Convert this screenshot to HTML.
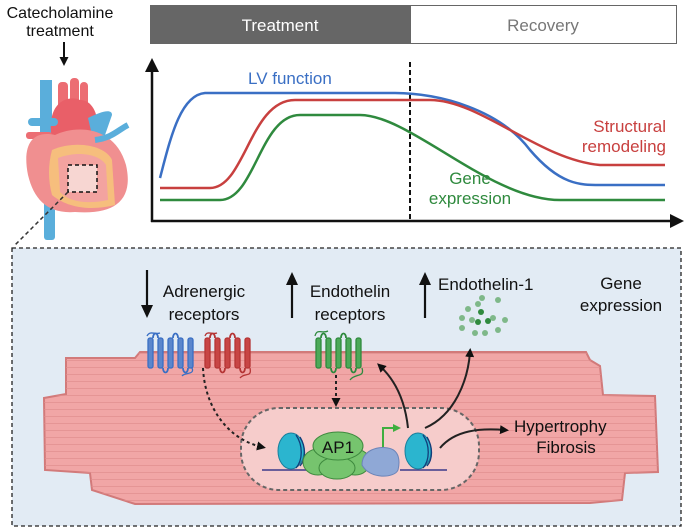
<!DOCTYPE html>
<html><head><meta charset="utf-8"><style>
html,body{margin:0;padding:0;background:#fff}
svg{display:block}
text{font-family:"Liberation Sans",sans-serif}
</style></head><body>
<svg width="685" height="530" viewBox="0 0 685 530" xmlns="http://www.w3.org/2000/svg">
<defs>
<marker id="ah" markerWidth="9" markerHeight="9" refX="5" refY="4.5" orient="auto" markerUnits="userSpaceOnUse"><path d="M0,0 L9,4.5 L0,9 z" fill="#111"/></marker>
<pattern id="str" width="40" height="7" patternUnits="userSpaceOnUse"><path d="M0,3.5 H40" stroke="#e08e8e" stroke-width="1"/></pattern>
</defs>
<text x="60" y="18" font-size="16" text-anchor="middle" fill="#111">Catecholamine</text>
<text x="60" y="36" font-size="16" text-anchor="middle" fill="#111">treatment</text>
<line x1="64" y1="42" x2="64" y2="62" stroke="#111" stroke-width="2" marker-end="url(#ah)"/>
<!-- heart -->
<g>
<path d="M40,80 L52,80 L52,150 L40,150 z" fill="#5aaedb"/>
<rect x="44" y="195" width="11" height="45" rx="3" fill="#5aaedb"/>
<rect x="58" y="82" width="10" height="30" rx="4" fill="#ec6d73"/>
<rect x="70" y="78" width="9" height="34" rx="4" fill="#ec6d73"/>
<rect x="80" y="82" width="8" height="30" rx="4" fill="#ec6d73"/>
<path d="M52,140 C45,100 70,95 80,100 C95,100 100,120 98,140 z" fill="#e95f68"/>
<rect x="28" y="118" width="30" height="8" rx="4" fill="#5aaedb"/>
<rect x="26" y="132" width="26" height="7" rx="3" fill="#ec6d73"/>
<path d="M88,118 C100,112 112,108 112,115 L105,135 L92,135 z" fill="#5aaedb"/>
<path d="M28,175 C22,145 32,130 55,135 C75,125 115,125 126,165 C134,200 115,215 75,212 C48,214 34,200 28,175 z" fill="#f08f90"/>
<path d="M52,150 C75,140 105,145 112,160 L115,205 C95,210 70,210 52,195 C48,180 48,165 52,150 z" fill="#f7c77a" opacity="0.85"/>
<path d="M58,158 C80,150 100,155 106,165 L108,200 C90,204 70,203 60,192 z" fill="#f3a3a0"/>
<path d="M95,140 C112,138 118,130 128,125" stroke="#5aaedb" stroke-width="6" fill="none"/>
<rect x="68" y="165" width="29" height="27" fill="#f7d6d2" stroke="#111" stroke-width="1.5" stroke-dasharray="4,3"/>
</g>
<line x1="68" y1="192" x2="15" y2="245" stroke="#333" stroke-width="1.5" stroke-dasharray="4,3"/>
<rect x="150" y="5" width="260" height="39" fill="#666"/>
<text x="280" y="31" font-size="17" text-anchor="middle" fill="#fff">Treatment</text>
<rect x="410.5" y="5.5" width="266" height="38" fill="#fff" stroke="#666" stroke-width="1"/>
<text x="543" y="31" font-size="17" text-anchor="middle" fill="#777">Recovery</text>
<line x1="152" y1="222" x2="152" y2="68" stroke="#111" stroke-width="2.5"/>
<path d="M145,72 L152,58 L159,72 z" fill="#111"/>
<line x1="151" y1="221" x2="672" y2="221" stroke="#111" stroke-width="2.5"/>
<path d="M670,214 L684,221 L670,228 z" fill="#111"/>
<line x1="410" y1="62" x2="410" y2="220" stroke="#111" stroke-width="2" stroke-dasharray="5,3"/>
<path d="M160,178 C170,140 180,95 205,93 L395,93 C440,93 500,110 530,150 C560,185 580,185 600,185 L665,185" fill="none" stroke="#3a6fc4" stroke-width="2.5"/>
<path d="M160,188 L210,188 C245,188 250,100 295,100 L430,100 C480,100 540,160 600,165 L665,165" fill="none" stroke="#c8403f" stroke-width="2.5"/>
<path d="M160,200 L220,200 C255,200 260,115 300,115 L360,115 C410,115 490,200 560,200 L665,200" fill="none" stroke="#2f8a3e" stroke-width="2.5"/>
<text x="248" y="84" font-size="17" fill="#3a6fc4">LV function</text>
<text x="666" y="132" font-size="17" text-anchor="end" fill="#c8403f">Structural</text>
<text x="666" y="152" font-size="17" text-anchor="end" fill="#c8403f">remodeling</text>
<text x="470" y="184" font-size="17" text-anchor="middle" fill="#2f8a3e">Gene</text>
<text x="470" y="204" font-size="17" text-anchor="middle" fill="#2f8a3e">expression</text>
<rect x="12" y="248" width="669" height="278" fill="#e2ebf4" stroke="#222" stroke-width="1.3" stroke-dasharray="4,3"/>
<path d="M66,358 L135,358 L140,352 L586,352 L590,360 L600,366 L603,395 L655,396 L658,472 L625,473 L622,500 L590,503 L135,504 L92,490 L90,473 L45,470 L44,398 L66,394 z" fill="#f1a6a6" stroke="#d27a7a" stroke-width="2"/>
<path d="M66,358 L135,358 L140,352 L586,352 L590,360 L600,366 L603,395 L655,396 L658,472 L625,473 L622,500 L590,503 L135,504 L92,490 L90,473 L45,470 L44,398 L66,394 z" fill="url(#str)" opacity="0.7"/>
<rect x="241" y="408" width="238" height="82" rx="38" fill="#f6cccb" stroke="#666" stroke-width="2" stroke-dasharray="4,3"/>
<line x1="147" y1="270" x2="147" y2="308" stroke="#111" stroke-width="2.2"/>
<path d="M141,305 L147,318 L153,305 z" fill="#111"/>
<text x="204" y="297" font-size="17" text-anchor="middle" fill="#111">Adrenergic</text>
<text x="204" y="320" font-size="17" text-anchor="middle" fill="#111">receptors</text>
<line x1="292" y1="318" x2="292" y2="282" stroke="#111" stroke-width="2.2"/>
<path d="M286,285 L292,272 L298,285 z" fill="#111"/>
<text x="350" y="297" font-size="17" text-anchor="middle" fill="#111">Endothelin</text>
<text x="350" y="320" font-size="17" text-anchor="middle" fill="#111">receptors</text>
<line x1="425" y1="318" x2="425" y2="282" stroke="#111" stroke-width="2.2"/>
<path d="M419,285 L425,272 L431,285 z" fill="#111"/>
<text x="438" y="290" font-size="17" fill="#111">Endothelin-1</text>
<text x="621" y="289" font-size="17" text-anchor="middle" fill="#111">Gene</text>
<text x="621" y="311" font-size="17" text-anchor="middle" fill="#111">expression</text>
<g fill="#7fb889">
<circle cx="468" cy="309" r="3"/><circle cx="478" cy="304" r="3"/><circle cx="498" cy="300" r="3"/><circle cx="462" cy="318" r="3"/><circle cx="472" cy="320" r="3"/><circle cx="493" cy="318" r="3"/><circle cx="505" cy="320" r="3"/><circle cx="462" cy="328" r="3"/><circle cx="475" cy="333" r="3"/><circle cx="485" cy="333" r="3"/><circle cx="498" cy="330" r="3"/><circle cx="482" cy="298" r="3"/>
<circle cx="481" cy="312" r="3" fill="#2f8a3e"/><circle cx="478" cy="322" r="3" fill="#2f8a3e"/><circle cx="488" cy="321" r="3" fill="#2f8a3e"/>
</g>
<g fill="none" stroke-width="1.3">
<g stroke="#3a6fc4" fill="#5b86cc"><rect x="148" y="338" width="5" height="30" rx="2"/><rect x="158" y="338" width="5" height="30" rx="2"/><rect x="168" y="338" width="5" height="30" rx="2"/><rect x="178" y="338" width="5" height="30" rx="2"/><rect x="188" y="338" width="5" height="30" rx="2"/></g>
<path d="M153,338 C153,332 158,332 158,338 M163,368 C163,374 168,374 168,368 M173,338 C173,332 178,332 178,338 M183,368 C183,374 188,374 188,368" stroke="#3a6fc4" stroke-width="1.8"/>
<path d="M147,336 C150,330 155,335 160,333" stroke="#3a6fc4"/><path d="M192,368 C195,375 185,372 182,376" stroke="#3a6fc4"/>
<g stroke="#b53535" fill="#c84545"><rect x="205" y="338" width="5" height="30" rx="2"/><rect x="215" y="338" width="5" height="30" rx="2"/><rect x="225" y="338" width="5" height="30" rx="2"/><rect x="235" y="338" width="5" height="30" rx="2"/><rect x="245" y="338" width="5" height="30" rx="2"/></g>
<path d="M210,338 C210,332 215,332 215,338 M220,368 C220,374 225,374 225,368 M230,338 C230,332 235,332 235,338 M240,368 C240,374 245,374 245,368" stroke="#b53535" stroke-width="1.8"/>
<path d="M205,336 C207,330 212,335 217,333" stroke="#b53535"/><path d="M250,368 C252,378 245,372 240,378" stroke="#b53535"/>
<g stroke="#2f8a3e" fill="#4ca958"><rect x="316" y="338" width="5" height="30" rx="2"/><rect x="326" y="338" width="5" height="30" rx="2"/><rect x="336" y="338" width="5" height="30" rx="2"/><rect x="346" y="338" width="5" height="30" rx="2"/><rect x="356" y="338" width="5" height="30" rx="2"/></g>
<path d="M321,338 C321,332 326,332 326,338 M331,368 C331,374 336,374 336,368 M341,338 C341,332 346,332 346,338 M351,368 C351,374 356,374 356,368" stroke="#2f8a3e" stroke-width="1.8"/>
<path d="M315,336 C317,328 322,334 328,331" stroke="#2f8a3e"/><path d="M362,368 C365,378 355,373 350,380" stroke="#2f8a3e"/>
</g>
<path d="M262,470 L330,470 M400,470 L447,470" stroke="#3b3a8a" stroke-width="1.5"/>
<ellipse cx="291" cy="451" rx="13" ry="18" fill="#2bb5cf" stroke="#1a7f9c" stroke-width="1"/>
<path d="M296,435 C303,445 303,460 296,468 M300,437 C306,447 306,459 300,466" stroke="#123d7a" stroke-width="1.3" fill="none"/>
<ellipse cx="418" cy="451" rx="13" ry="18" fill="#2bb5cf" stroke="#1a7f9c" stroke-width="1"/>
<path d="M423,435 C430,445 430,460 423,468 M427,437 C433,447 433,459 427,466" stroke="#123d7a" stroke-width="1.3" fill="none"/>
<ellipse cx="318" cy="462" rx="15" ry="13" fill="#76c46e" stroke="#3e8a3e"/>
<ellipse cx="355" cy="462" rx="15" ry="13" fill="#76c46e" stroke="#3e8a3e"/>
<ellipse cx="337" cy="468" rx="18" ry="11" fill="#76c46e" stroke="#3e8a3e"/>
<ellipse cx="338" cy="446" rx="25" ry="14" fill="#76c46e" stroke="#3e8a3e"/>
<text x="338" y="453" font-size="17" text-anchor="middle" fill="#111">AP1</text>
<path d="M362,465 C362,450 378,446 388,448 C400,450 400,462 398,470 C395,478 370,480 362,465 z" fill="#8fa8d6" stroke="#6b84b8"/>
<path d="M383,447 L383,428 L395,428" stroke="#3fae3f" stroke-width="2" fill="none"/>
<path d="M393,424 L401,428 L393,432 z" fill="#3fae3f"/>
<path d="M203,368 C205,410 230,440 262,447" stroke="#222" stroke-width="2" stroke-dasharray="3,3" fill="none" marker-end="url(#ah)"/>
<path d="M336,375 L336,403" stroke="#222" stroke-width="2" stroke-dasharray="3,3" fill="none" marker-end="url(#ah)"/>
<path d="M408,428 C405,400 395,380 380,366" stroke="#222" stroke-width="2" fill="none" marker-end="url(#ah)"/>
<path d="M425,428 C455,415 468,380 470,352" stroke="#222" stroke-width="2" fill="none" marker-end="url(#ah)"/>
<path d="M440,448 C455,430 480,428 505,430" stroke="#222" stroke-width="2" fill="none" marker-end="url(#ah)"/>
<text x="514" y="432" font-size="17" fill="#111">Hypertrophy</text>
<text x="566" y="453" font-size="17" text-anchor="middle" fill="#111">Fibrosis</text>
</svg>
</body></html>
